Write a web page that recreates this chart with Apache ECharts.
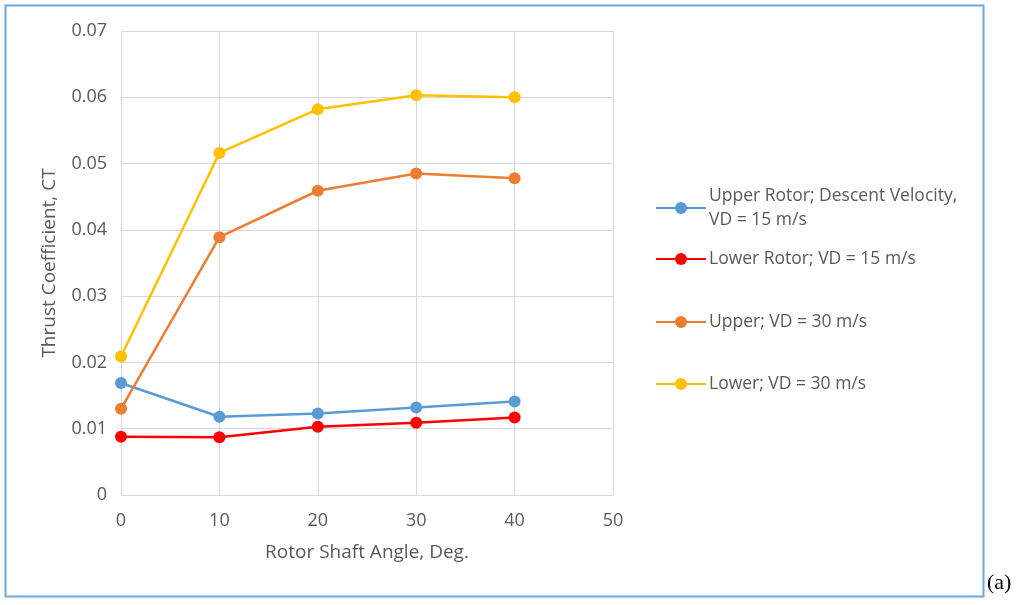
<!DOCTYPE html>
<html><head><meta charset="utf-8">
<script src="https://cdn.jsdelivr.net/npm/echarts@6/dist/echarts.min.js"></script>
<style>html,body{margin:0;padding:0;background:#fff}#c{width:1024px;height:605px}</style>
</head><body><div id="c"></div>
<script>
const angles = [0, 10, 20, 30, 40];
const upper15 = [0.0169, 0.0118, 0.0123, 0.0132, 0.0141];
const lower15 = [0.0088, 0.0087, 0.0103, 0.0109, 0.0117];
const upper30 = [0.0130, 0.0389, 0.0459, 0.0485, 0.0478];
const lower30 = [0.0209, 0.0516, 0.0582, 0.0603, 0.0600];
const yTicks = [0, 0.01, 0.02, 0.03, 0.04, 0.05, 0.06, 0.07];
const names = ['Upper Rotor; Descent Velocity,\nVD = 15 m/s', 'Lower Rotor; VD = 15 m/s', 'Upper; VD = 30 m/s', 'Lower; VD = 30 m/s'];
const colors = ['#5B9BD5', '#FF0000', '#ED7D31', '#FFC000'];
const values = [upper15, lower15, upper30, lower30];
const legendTops = [179, 242, 305, 367];
const font = '"Open Sans", Lato, sans-serif';
const chart = echarts.init(document.getElementById('c'));
chart.setOption({
  animation: false,
  grid: {left: 121, top: 31, width: 492, height: 464, containLabel: false},
  xAxis: {type: 'value', min: 0, max: 50, interval: 10,
    name: 'Rotor Shaft Angle, Deg.', nameLocation: 'middle', nameGap: 48,
    nameTextStyle: {color: '#595959', fontSize: 19, fontFamily: font},
    axisLine: {show: true, lineStyle: {color: '#d9d9d9', width: 1}},
    axisTick: {show: false},
    axisLabel: {color: '#595959', fontSize: 18, fontFamily: font, margin: 17},
    splitLine: {show: true, lineStyle: {color: '#d9d9d9', width: 1}}},
  yAxis: {type: 'value', min: 0, max: 0.07, interval: 0.01,
    name: 'Thrust Coefficient, CT', nameLocation: 'middle', nameGap: 62, nameRotate: 90,
    nameTextStyle: {color: '#595959', fontSize: 19, fontFamily: font},
    axisLine: {show: true, lineStyle: {color: '#d9d9d9', width: 1}},
    axisTick: {show: false},
    axisLabel: {color: '#595959', fontSize: 18, fontFamily: font, margin: 14,
      formatter: v => { const t = yTicks.find(x => Math.abs(x - v) < 1e-9); return t === 0 ? '0' : (+v.toFixed(2)).toFixed(2); }},
    splitLine: {show: true, lineStyle: {color: '#d9d9d9', width: 1}}},
  legend: names.map((n, i) => ({
    data: [n], left: 650, top: legendTops[i], orient: 'vertical',
    itemWidth: 50, itemHeight: 15, itemGap: 0,
    textStyle: {color: '#595959', fontSize: 17.5, fontFamily: font, lineHeight: 24, padding: [0,0,0,-2]}
  })),
  series: names.map((n, i) => ({
    name: n, type: 'line', data: angles.map((a, j) => [a, values[i][j]]),
    symbol: 'circle', symbolSize: 12,
    lineStyle: {color: colors[i], width: 2.5},
    itemStyle: {color: colors[i]}
  })),
  graphic: [
    {type: 'rect', shape: {x: 5.5, y: 5.5, width: 978, height: 591}, style: {fill: 'none', stroke: '#6FA8DC', lineWidth: 2}, z: -1},
    {type: 'text', left: 987, top: 572, style: {text: '(a)', font: '22px "Liberation Serif", serif', fill: '#000'}}
  ]
});
</script></body></html>
